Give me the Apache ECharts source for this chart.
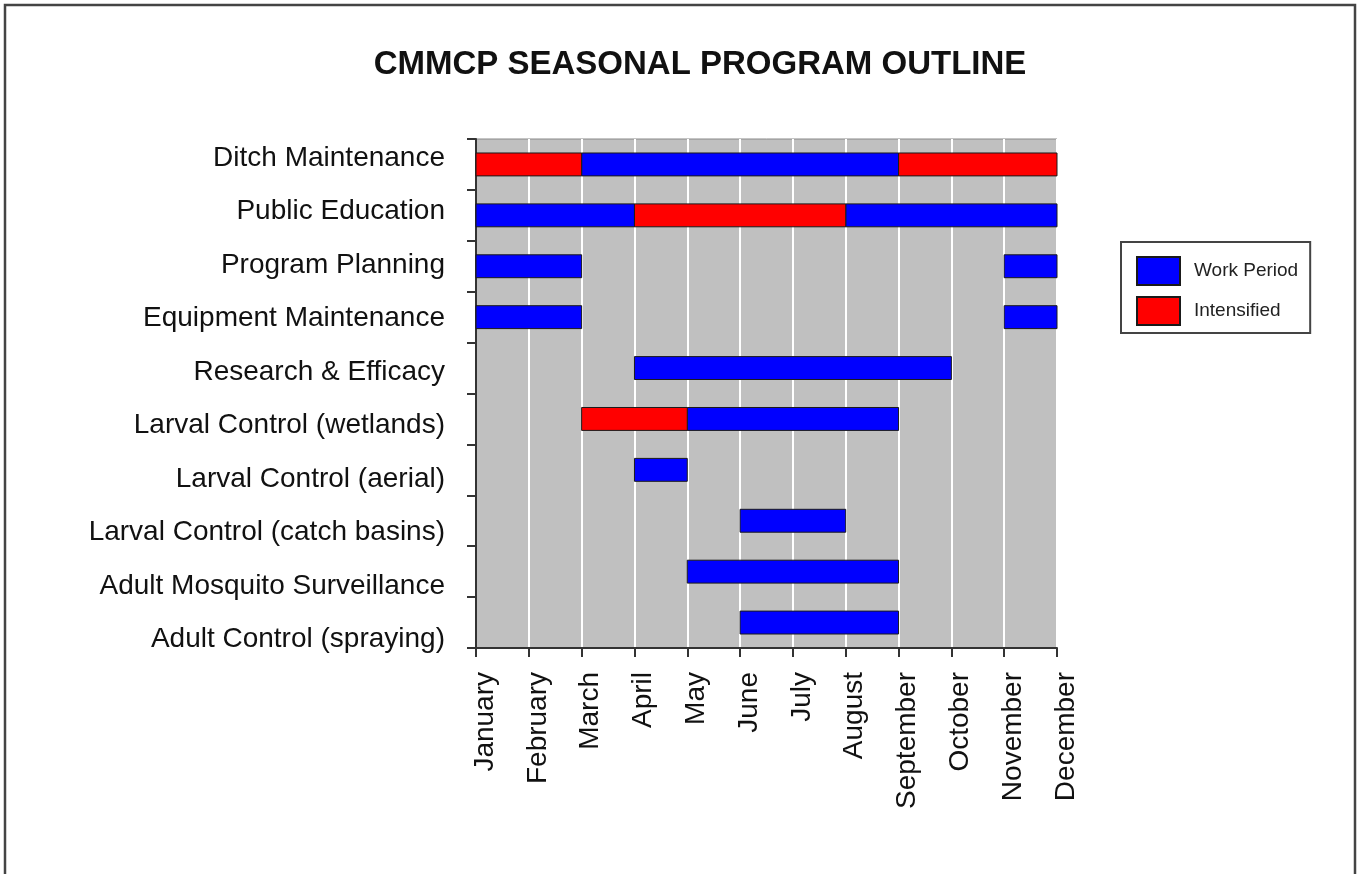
<!DOCTYPE html>
<html>
<head>
<meta charset="utf-8">
<script src="https://cdn.jsdelivr.net/npm/echarts@6/dist/echarts.min.js"></script>
<style>
html,body{margin:0;padding:0;background:#fff;}
#chart{width:1361px;height:874px;}
</style>
</head>
<body>
<div id="chart"></div>
<script>
var titleText = 'CMMCP SEASONAL PROGRAM OUTLINE';
var tasks = ['Ditch Maintenance','Public Education','Program Planning','Equipment Maintenance','Research & Efficacy','Larval Control (wetlands)','Larval Control (aerial)','Larval Control (catch basins)','Adult Mosquito Surveillance','Adult Control (spraying)'];
var months = ['January','February','March','April','May','June','July','August','September','October','November','December'];
// [task index, start month index, end month index]
var workPeriod = [[0,2,8],[1,0,3],[1,7,11],[2,0,2],[2,10,11],[3,0,2],[3,10,11],[4,3,9],[5,4,8],[6,3,4],[7,5,7],[8,4,8],[9,5,8]];
var intensified = [[0,0,2],[0,8,11],[1,3,7],[5,2,4]];

var FONT = '"Liberation Sans", Arial, Helvetica, sans-serif';
var chart = echarts.init(document.getElementById('chart'));

function renderBar(params, api) {
  var cat = api.value(0);
  var s = api.coord([api.value(1), cat]);
  var e = api.coord([api.value(2), cat]);
  var h = api.size([0, 1])[1] * 0.45;
  var rect = echarts.graphic.clipRectByRect({
    x: s[0], y: s[1] - h / 2, width: e[0] - s[0], height: h
  }, {
    x: params.coordSys.x, y: params.coordSys.y, width: params.coordSys.width, height: params.coordSys.height
  });
  return rect && { type: 'rect', shape: rect, style: api.style() };
}

var option = {
  animation: false,
  backgroundColor: '#ffffff',
  textStyle: { fontFamily: FONT },
  graphic: [
    { type: 'rect', shape: { x: 5, y: 5, width: 1350, height: 900 }, style: { fill: 'none', stroke: '#444', lineWidth: 2.5 }, z: 100 },
    { type: 'text', x: 700, y: 65, style: { text: titleText, fontFamily: FONT, fontWeight: 'bold', fontSize: 33, fill: '#111', textAlign: 'center', textVerticalAlign: 'middle' } }
  ],
  legend: {
    data: ['Work Period', 'Intensified'],
    orient: 'vertical',
    left: 1121, top: 242,
    itemWidth: 43, itemHeight: 28, itemGap: 10,
    padding: [14, 12, 7, 15],
    borderColor: '#444', borderWidth: 2,
    backgroundColor: '#fff',
    icon: 'rect',
    selectedMode: false,
    textStyle: { fontFamily: FONT, fontSize: 19, color: '#222', padding: [0, 0, 0, 9] }
  },
  grid: [
    { left: 476, right: 304, top: 139, bottom: 226, show: true, backgroundColor: '#c0c0c0', borderColor: '#888', borderWidth: 1 },
    { left: 476, right: 304, top: 131.25, bottom: 207.75, show: false }
  ],
  xAxis: [
    {
      type: 'value', gridIndex: 0, min: 0, max: 11, interval: 1,
      axisLine: { show: true, lineStyle: { color: '#333', width: 2 } },
      axisTick: { show: true, length: 9, lineStyle: { color: '#333', width: 2 } },
      splitLine: { show: true, lineStyle: { color: '#ffffff', width: 2 } },
      axisLabel: {
        rotate: 90, margin: 24, fontSize: 28, color: '#111', fontFamily: FONT,
        verticalAlign: 'top', lineHeight: 18,
        formatter: function (v) { return months[v] || ''; }
      }
    },
    { type: 'value', gridIndex: 1, min: 0, max: 11, show: false }
  ],
  yAxis: [
    {
      type: 'category', gridIndex: 0, data: tasks, inverse: true,
      axisLine: { show: true, lineStyle: { color: '#333', width: 2 } },
      axisTick: { show: true, length: 9, lineStyle: { color: '#333', width: 2 } },
      axisLabel: { show: false },
      splitLine: { show: false }
    },
    {
      type: 'category', gridIndex: 1, data: tasks, inverse: true,
      axisLine: { show: false }, axisTick: { show: false }, splitLine: { show: false },
      axisLabel: { show: true, margin: 31, fontSize: 28, color: '#111', fontFamily: FONT }
    }
  ],
  series: [
    {
      name: 'Work Period', type: 'custom', xAxisIndex: 0, yAxisIndex: 0,
      renderItem: renderBar,
      encode: { x: [1, 2], y: 0 },
      itemStyle: { color: '#0000ff', borderColor: '#1a1a1a', borderWidth: 1 },
      data: workPeriod
    },
    {
      name: 'Intensified', type: 'custom', xAxisIndex: 0, yAxisIndex: 0,
      renderItem: renderBar,
      encode: { x: [1, 2], y: 0 },
      itemStyle: { color: '#ff0000', borderColor: '#1a1a1a', borderWidth: 1 },
      data: intensified
    }
  ]
};
chart.setOption(option);
</script>
</body>
</html>
